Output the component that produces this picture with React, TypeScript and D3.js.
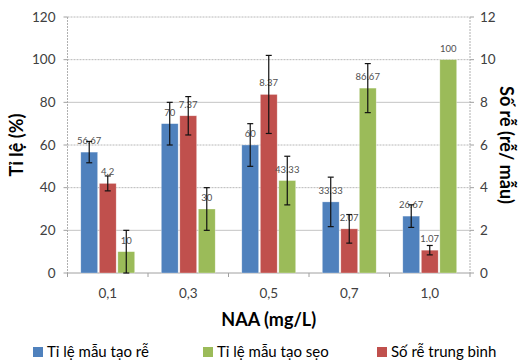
import React from "react";
import * as d3 from "d3";

const categories = ["0,1", "0,3", "0,5", "0,7", "1,0"];
const rootRate = [56.67, 70, 60, 33.33, 26.67];
const rootRateErr = [5, 10, 10, 11.6, 5.3];
const rootCount = [4.2, 7.37, 8.37, 2.07, 1.07];
const rootCountErr = [0.35, 0.9, 1.83, 0.67, 0.22];
const callusRate = [10, 30, 43.33, 86.67, 100];
const callusRateErr = [10, 10, 11.4, 11.5, 0];
const leftTicks = [0, 20, 40, 60, 80, 100, 120];
const rightTicks = [0, 2, 4, 6, 8, 10, 12];
const seriesNames = ["Tỉ lệ mẫu tạo rễ", "Tỉ lệ mẫu tạo sẹo", "Số rễ trung bình"];

const W = 522, H = 362;
const left = 67.5, right = 470, top = 17, bottom = 273;
const COLORS = { blue: "#4F81BD", red: "#C0504D", green: "#9BBB59" };
const FONT = "Lato, 'Open Sans', sans-serif";

export default function App() {
  const x0 = d3.scaleBand<string>().domain(categories).range([left, right]);
  const bw = x0.bandwidth();
  const x1 = d3.scaleBand<string>().domain(["blue", "red", "green"]).range([13.3, bw - 13.3]).paddingInner(0.09);
  const yL = d3.scaleLinear().domain([0, 120]).range([bottom, top]);
  const yR = d3.scaleLinear().domain([0, 12]).range([bottom, top]);

  type Bar = { key: string; v: number; e: number; y: d3.ScaleLinear<number, number>; color: string };
  const groups: Bar[][] = categories.map((_, i) => [
    { key: "blue", v: rootRate[i], e: rootRateErr[i], y: yL, color: COLORS.blue },
    { key: "red", v: rootCount[i], e: rootCountErr[i], y: yR, color: COLORS.red },
    { key: "green", v: callusRate[i], e: callusRateErr[i], y: yL, color: COLORS.green },
  ]);

  const fmt = (v: number) => String(v);

  return (
    <div style={{ position: "absolute", left: 0, top: 0 }}>
      <svg width={W} height={H} style={{ display: "block", background: "#fff" }} fontFamily={FONT}>
        {/* gridlines */}
        {leftTicks.map((t) => (
          t === 0 ? null :
          <line key={"g" + t} x1={left} x2={right} y1={yL(t)} y2={yL(t)}
            stroke={t === 20 || t === 80 ? "#c4c4c4" : "#b8b8b8"} strokeWidth={1}
            strokeDasharray={t === 20 || t === 80 ? undefined : "2,1"} />
        ))}
        {/* axes */}
        <line x1={left} x2={left} y1={top} y2={bottom} stroke="#b0b0b0" strokeDasharray="2,1" />
        <line x1={right} x2={right} y1={top} y2={bottom} stroke="#b0b0b0" strokeDasharray="2,1" />
        <line x1={left} x2={right} y1={bottom} y2={bottom} stroke="#a0a0a0" />
        {leftTicks.map((t) => (
          <g key={"lt" + t}>
            <line x1={left - 4} x2={left} y1={yL(t)} y2={yL(t)} stroke="#a0a0a0" />
            <text x={left - 12} y={yL(t)} dy="0.35em" textAnchor="end" fontSize={13.5} fill="#404040">{t}</text>
          </g>
        ))}
        {rightTicks.map((t) => (
          <g key={"rt" + t}>
            <line x1={right} x2={right + 4} y1={yR(t)} y2={yR(t)} stroke="#a0a0a0" />
            <text x={right + 10} y={yR(t)} dy="0.35em" textAnchor="start" fontSize={13.5} fill="#404040">{t}</text>
          </g>
        ))}
        {categories.map((c, i) => (
          <g key={"xt" + c}>
            <line x1={x0(c)!} x2={x0(c)!} y1={bottom} y2={bottom + 4} stroke="#a0a0a0" />
            {i === categories.length - 1 ? (
              <line x1={right} x2={right} y1={bottom} y2={bottom + 4} stroke="#a0a0a0" />
            ) : null}
            <text x={x0(c)! + bw / 2} y={298} textAnchor="middle" fontSize={13.5} fill="#404040">{c}</text>
          </g>
        ))}
        {/* bars */}
        {categories.map((c, i) => (
          <g key={"grp" + c} transform={`translate(${x0(c)},0)`}>
            {groups[i].map((b) => {
              const bx = x1(b.key)!;
              const w = x1.bandwidth();
              const yt = b.y(b.v);
              const cx = bx + w / 2;
              return (
                <g key={b.key}>
                  <rect x={bx} y={yt} width={w} height={bottom - yt} fill={b.color} stroke="#ffffff" strokeOpacity={0.5} strokeWidth={0.6} />
                  <text x={cx} y={yt - 8} textAnchor="middle" fontSize={9.5} fill="#505050">{fmt(b.v)}</text>
                  {b.e > 0 ? (
                    <g stroke="#111" strokeWidth={1.2}>
                      <line x1={cx} x2={cx} y1={b.y(b.v + b.e)} y2={b.y(Math.max(0, b.v - b.e))} />
                      <line x1={cx - 3} x2={cx + 3} y1={b.y(b.v + b.e)} y2={b.y(b.v + b.e)} />
                      <line x1={cx - 3} x2={cx + 3} y1={b.y(Math.max(0, b.v - b.e))} y2={b.y(Math.max(0, b.v - b.e))} />
                    </g>
                  ) : null}
                </g>
              );
            })}
          </g>
        ))}
        {/* axis titles */}
        <text transform={`translate(23,${(top + bottom) / 2}) rotate(-90)`} textAnchor="middle" fontSize={18} fontWeight="bold" fill="#000">Tỉ lệ (%)</text>
        <text transform={`translate(500,${(top + bottom) / 2}) rotate(90)`} textAnchor="middle" fontSize={18} fontWeight="bold" fill="#000">Số rễ (rễ/ mẫu)</text>
        <text x={(left + right) / 2} y={326} textAnchor="middle" fontSize={18} fontWeight="bold" fill="#000">NAA (mg/L)</text>
        {/* legend */}
        {[
          { name: seriesNames[0], color: COLORS.blue, x: 33 },
          { name: seriesNames[1], color: COLORS.green, x: 203 },
          { name: seriesNames[2], color: COLORS.red, x: 377 },
        ].map((l) => (
          <g key={l.name}>
            <rect x={l.x} y={347} width={10} height={10} fill={l.color} />
            <text x={l.x + 14} y={357} fontSize={15} fill="#000">{l.name}</text>
          </g>
        ))}
      </svg>
    </div>
  );
}
